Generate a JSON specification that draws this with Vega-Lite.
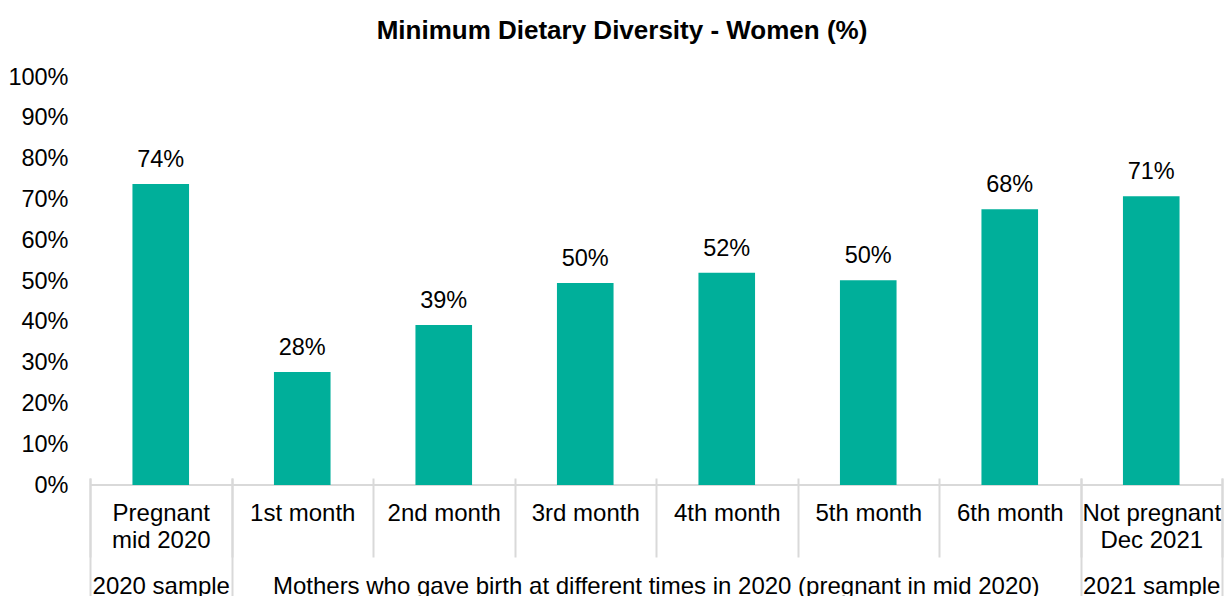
{
  "$schema": "https://vega.github.io/schema/vega-lite/v6.json",
  "width": 1132,
  "height": 408,
  "autosize": "none",
  "padding": {"left": 90, "top": 77, "right": 2, "bottom": 111},
  "background": "white",
  "config": {"view": {"stroke": null}, "font": "Liberation Sans"},
  "title": {
    "text": "Minimum Dietary Diversity - Women (%)",
    "fontSize": 26,
    "fontWeight": "bold",
    "color": "#000000",
    "anchor": "middle",
    "baseline": "alphabetic",
    "dx": -34,
    "offset": 0
  },
  "data": {
    "values": [
      {"cat": "Pregnant mid 2020", "value": 73.8, "label": "74%"},
      {"cat": "1st month", "value": 27.7, "label": "28%"},
      {"cat": "2nd month", "value": 39.2, "label": "39%"},
      {"cat": "3rd month", "value": 49.5, "label": "50%"},
      {"cat": "4th month", "value": 52.0, "label": "52%"},
      {"cat": "5th month", "value": 50.2, "label": "50%"},
      {"cat": "6th month", "value": 67.6, "label": "68%"},
      {"cat": "Not pregnant Dec 2021", "value": 70.8, "label": "71%"}
    ]
  },
  "resolve": {"axis": {"x": "independent"}},
  "layer": [
    {
      "mark": {"type": "rule", "color": "#d9d9d9", "strokeWidth": 2},
      "encoding": {
        "y": {
          "datum": 0,
          "type": "quantitative",
          "scale": {"domain": [0, 100]},
          "axis": {
            "title": null,
            "domain": false,
            "ticks": false,
            "grid": false,
            "values": [0, 10, 20, 30, 40, 50, 60, 70, 80, 90, 100],
            "labelExpr": "datum.value + '%'",
            "labelFontSize": 23.5,
            "labelColor": "#000000",
            "labelPadding": 22
          }
        }
      }
    },
    {
      "mark": {"type": "bar", "color": "#00AF9A", "width": {"band": 0.4}},
      "encoding": {
        "x": {
          "field": "cat",
          "type": "nominal",
          "sort": null,
          "scale": {"paddingInner": 0, "paddingOuter": 0},
          "axis": {
            "orient": "bottom",
            "title": null,
            "domain": false,
            "offset": -7,
            "tickBand": "extent",
            "tickSize": 79,
            "tickColor": "#d9d9d9",
            "tickWidth": 2,
            "labelAngle": 0,
            "labelFontSize": 24,
            "labelColor": "#000000",
            "labelLineHeight": 27,
            "labelPadding": -56,
            "labelBaseline": "top",
            "labelOverlap": false,
            "labelLimit": 0,
            "labelExpr": "datum.value == 'Pregnant mid 2020' ? ['Pregnant', 'mid 2020'] : datum.value == 'Not pregnant Dec 2021' ? ['Not pregnant', 'Dec 2021'] : indexof(['1st month', '2nd month', '3rd month', '4th month', '5th month', '6th month'], datum.value) >= 0 ? datum.value : ''"
          }
        },
        "y": {
          "field": "value",
          "type": "quantitative",
          "scale": {"domain": [0, 100]},
          "axis": {
            "title": null,
            "domain": false,
            "ticks": false,
            "grid": false,
            "values": [0, 10, 20, 30, 40, 50, 60, 70, 80, 90, 100],
            "labelExpr": "datum.value + '%'",
            "labelFontSize": 23.5,
            "labelColor": "#000000",
            "labelPadding": 22
          }
        }
      }
    },
    {
      "mark": {"type": "text", "fontSize": 23.5, "baseline": "alphabetic", "dy": -17, "color": "#000000"},
      "encoding": {
        "x": {
          "field": "cat",
          "type": "nominal",
          "sort": null,
          "axis": {
            "orient": "bottom",
            "title": null,
            "domain": false,
            "offset": -7,
            "tickBand": "extent",
            "values": ["Pregnant mid 2020", "6th month", "Not pregnant Dec 2021"],
            "tickSize": 125,
            "tickColor": "#d9d9d9",
            "tickWidth": 2,
            "labelAngle": 0,
            "labelFontSize": 24,
            "labelColor": "#000000",
            "labelPadding": -29,
            "labelBaseline": "top",
            "labelLimit": 0,
            "labelOverlap": false,
            "labelExpr": "datum.value == 'Pregnant mid 2020' ? '2020 sample' : datum.value == '6th month' ? 'Mothers who gave birth at different times in 2020 (pregnant in mid 2020)' : datum.value == 'Not pregnant Dec 2021' ? '2021 sample' : ''",
            "labelOffset": {"expr": "datum.value == '6th month' ? -354 : 0"}
          }
        },
        "y": {"field": "value", "type": "quantitative"},
        "text": {"field": "label"}
      }
    }
  ]
}
